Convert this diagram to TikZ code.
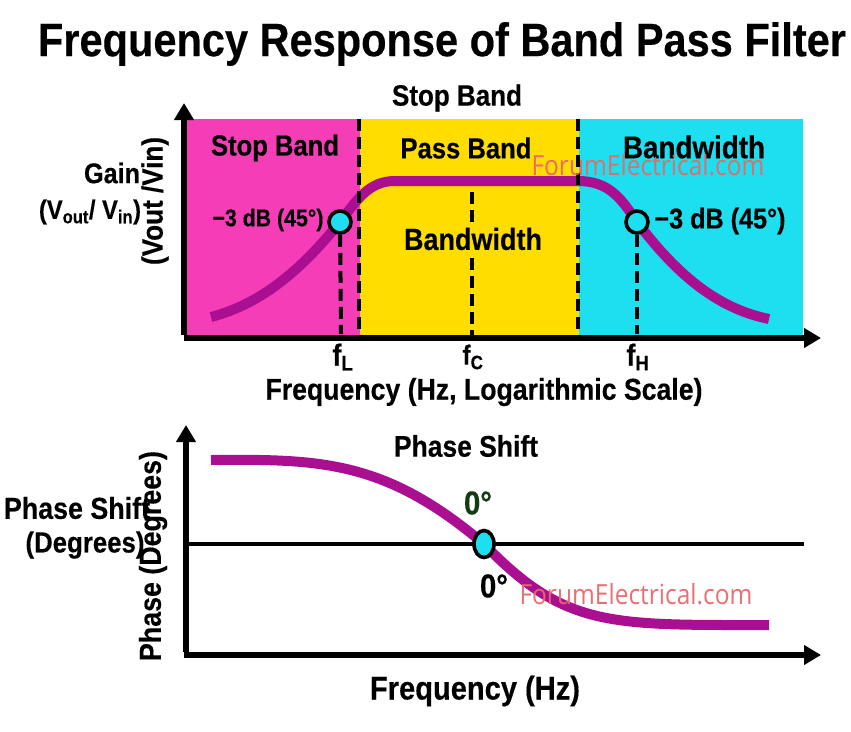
\documentclass[tikz,border=0pt]{standalone}
\usepackage{fontspec}
\usepackage{graphicx}
\usetikzlibrary{arrows.meta,shapes.geometric}
\setmainfont[BoldFeatures={FakeBold=0.4}]{Liberation Sans}
\newfontfamily\wmfont{Open Sans}
\newcommand\fsz[1]{\fontsize{#1}{#1}\selectfont\bfseries}
\newcommand\fitw[2]{\scalebox{1}[1.13]{\resizebox{#1pt}{!}{#2}}}
\definecolor{cmag}{HTML}{F43DB7}
\definecolor{cyel}{HTML}{FFDD00}
\definecolor{ccya}{HTML}{1DDFF0}
\definecolor{cpur}{HTML}{AA0F92}
\definecolor{cwm}{HTML}{E8686A}
\tikzset{
  lab/.style={inner sep=0pt,outer sep=0pt,text=black,anchor=center},
  axisline/.style={line width=5.6pt,-{Triangle[length=17pt,width=19pt]}},
  curve/.style={line width=10pt,cpur,line join=round},
  guide/.style={line width=4pt,black,dash pattern=on 12pt off 6pt},
  marker/.style={ellipse,draw=black,line width=3.6pt,fill=ccya,minimum width=20pt,minimum height=27pt,inner sep=0pt},
  hollow/.style={circle,draw=black,line width=3.6pt,fill=ccya,minimum size=22pt,inner sep=0pt},
  wm/.style={inner sep=0pt,text=cwm,opacity=.95,anchor=center}
}
\begin{document}
\begin{tikzpicture}[x=1pt,y=-1pt]
\useasboundingbox (0,0) rectangle (851,731);
% title
\node[lab] (title) at (442,44) {\fitw{808}{\fsz{37}Frequency Response of Band Pass Filter}};
% bands
\fill[cmag] (187,119) rectangle (360,337);
\fill[cyel] (360,119) rectangle (579,337);
\fill[ccya] (579,119) rectangle (803,337);
% gain curve
\coordinate (g0) at (211,317);
\coordinate (gL) at (340,222);
\coordinate (g1) at (395,181);
\coordinate (g2) at (578,181);
\coordinate (gH) at (637,222);
\coordinate (g3) at (769,319);
\draw[curve] (g0) .. controls (265,303) and (305,265) .. (gL)
  .. controls (358,198) and (370,181) .. (g1) -- (g2)
  .. controls (610,181) and (622,200) .. (gH)
  .. controls (675,272) and (715,308) .. (g3);
% dashed guides
\coordinate (bl0) at (359,119); \coordinate (bl1) at (359,336);
\coordinate (br0) at (578,119); \coordinate (br1) at (578,336);
\coordinate (fl1) at (341,334);
\coordinate (fh1) at (637,334);
\coordinate (fc0) at (472,192); \coordinate (fc1) at (472,222);
\coordinate (fc2) at (472,258); \coordinate (fc3) at (472,336);
\draw[guide] (bl0) -- (bl1);
\draw[guide] (br0) -- (br1);
\draw[guide] (fc0) -- (fc1);
\draw[guide] (fc2) -- (fc3);
\node[hollow] (mL) at (gL) {};
\node[hollow] (mH) at (gH) {};
\draw[guide] (mL) -- (fl1);
\draw[guide] (mH) -- (fh1);
% axes
\coordinate (o1) at (184,338);
\coordinate (y1) at (184,103);
\coordinate (x1) at (821,338);
\draw[axisline] ([yshift=2.8pt]o1) -- (y1);
\draw[axisline] (o1) -- (x1);
% labels top
\node[lab] (tstop) at (457,98) {\fitw{130}{\fsz{23}Stop Band}};
\node[lab] (s1) at (275,148) {\fitw{128}{\fsz{24}Stop Band}};
\node[lab] (s2) at (466,148) {\fitw{131}{\fsz{24}Pass Band}};
\node[lab] (s3) at (694,147) {\fitw{142}{\fsz{24}Bandwidth}};
\node[lab] (s4) at (473,239) {\fitw{138}{\fsz{24}Bandwidth}};
\node[lab] (d1) at (268,220) {\fitw{111}{\fsz{21}−3 dB (45°)}};
\node[lab] (d2) at (720,221) {\fitw{131}{\fsz{24}−3 dB (45°)}};
\node[lab] (gain) at (112,173) {\fitw{56}{\fsz{24}Gain}};
\node[lab] (vv) at (90,212) {\fitw{102}{\fsz{23}(V\textsubscript{out}/ V\textsubscript{in})}};
\node[lab,rotate=90] (vy) at (155,201) {\fitw{128}{\fsz{23}(Vout /Vin)}};
\node[lab] (fl) at (343,357) {\fitw{21}{\fsz{23}f\textsubscript{L}}};
\node[lab] (fc) at (473,357) {\fitw{21}{\fsz{23}f\textsubscript{C}}};
\node[lab] (fh) at (638,357) {\fitw{23}{\fsz{23}f\textsubscript{H}}};
\node[lab] (xl) at (484,392) {\fitw{437}{\fsz{24}Frequency (Hz, Logarithmic Scale)}};
\node[wm] (w1) at (648,165) {\fitw{233}{\wmfont\fontsize{23}{23}\selectfont ForumElectrical.com}};
% lower plot
\coordinate (o2) at (184,655);
\coordinate (y2) at (186,425);
\coordinate (x2) at (821,655);
\coordinate (h0) at (186,544);
\coordinate (h1) at (804,544);
\draw[axisline] ([xshift=2pt,yshift=2.8pt]o2) -- (y2);
\draw[axisline] (o2) -- (x2);
\draw[line width=3.6pt] (h0) -- (h1);
\coordinate (p0) at (211,460);
\coordinate (pm) at (484,544);
\coordinate (p1) at (769,625);
\draw[curve] (p0) .. controls (320,459) and (385,460) .. (pm)
  .. controls (565,628) and (610,625) .. (p1);
\node[marker] (m0) at (pm) {};
\node[lab] (ps) at (466,446) {\fitw{144}{\fsz{25}Phase Shift}};
\node[lab,rotate=90] (py2) at (153,556) {\fitw{210}{\fsz{24}Phase (Degrees)}};
\node[lab] (pl1) at (77,508) {\fitw{146}{\fsz{25}Phase Shift}};
\node[lab] (pl2) at (85,545) {\fitw{119}{\fsz{24}(Degrees)}};
\node[lab,text={rgb,255:red,20;green,60;blue,20}] (z1) at (478,503) {\fitw{28}{\fsz{25}0°}};
\node[lab] (z2) at (494,586) {\fitw{28}{\fsz{25}0°}};
\node[wm] (w2) at (636,594) {\fitw{233}{\wmfont\fontsize{23}{23}\selectfont ForumElectrical.com}};
\node[lab] (xl2) at (475,691) {\fitw{210}{\fsz{26}Frequency (Hz)}};
\end{tikzpicture}
\end{document}
